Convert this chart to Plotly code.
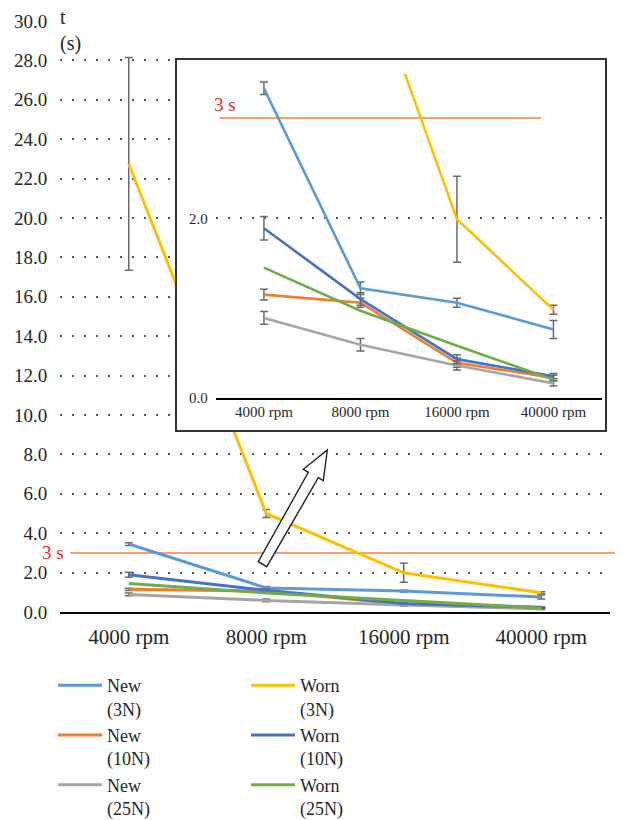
import plotly.graph_objects as go

# ---------------- data ----------------
categories = ["4000 rpm", "8000 rpm", "16000 rpm", "40000 rpm"]

new_3n = [3.45, 1.22, 1.06, 0.76]
new_3n_err = [0.07, 0.07, 0.05, 0.10]
new_10n = [1.15, 1.06, 0.39, 0.22]
new_10n_err = [0.06, 0.05, 0.05, 0.03]
new_25n = [0.89, 0.59, 0.36, 0.16]
new_25n_err = [0.07, 0.07, 0.05, 0.03]
worn_3n = [22.75, 5.0, 1.99, 0.98]
worn_3n_err = [5.4, 0.2, 0.48, 0.05]
worn_10n = [1.89, 1.10, 0.43, 0.24]
worn_10n_err = [0.13, 0.07, 0.05, 0.03]
worn_25n = [1.45, 0.97, 0.58, 0.20]
worn_25n_err = None

threshold = 3.0
threshold_label = "3 s"
y_title = "t<br>(s)"

# ---------------- geometry (page pixels -> paper) ----------------
PAGE_W, PAGE_H = 623, 820
OFF = 8                      # default page body margin
W, H = PAGE_W - OFF, PAGE_H - OFF
PLOT_L, PLOT_R, PLOT_T, PLOT_B = 60, 610, 21, 612   # page pixels
ML, MR = PLOT_L - OFF, W - (PLOT_R - OFF)
MT, MB = PLOT_T - OFF, H - (PLOT_B - OFF)
PW = PLOT_R - PLOT_L
PH = PLOT_B - PLOT_T


def px(x):
    return (x - PLOT_L) / PW


def py(y):
    return (PLOT_B - y) / PH


FONT = "Liberation Serif"
TXT = "#262626"
ERR = "#6a6a6a"
GRID = "#555555"
CLEAR = "rgba(0,0,0,0)"

series = [
    ("New<br>(3N)", new_3n, new_3n_err, "#5B9BD5", "legend"),
    ("New<br>(10N)", new_10n, new_10n_err, "#ED7D31", "legend"),
    ("New<br>(25N)", new_25n, new_25n_err, "#A5A5A5", "legend"),
    ("Worn<br>(3N)", worn_3n, worn_3n_err, "#FFC000", "legend2"),
    ("Worn<br>(10N)", worn_10n, worn_10n_err, "#4472C4", "legend2"),
    ("Worn<br>(25N)", worn_25n, worn_25n_err, "#70AD47", "legend2"),
]

fig = go.Figure()

# main chart
for name, vals, err, color, leg in series:
    fig.add_trace(go.Scatter(
        x=categories, y=vals, mode="lines", name=name, legend=leg,
        line=dict(color=color, width=3),
        error_y=dict(type="data", array=err if err else [0] * len(vals),
                     visible=err is not None, color=ERR, thickness=1.5, width=4),
        xaxis="x", yaxis="y", hoverinfo="skip",
    ))

# empty holder subplot: white framed area of the inset
fig.add_trace(go.Scatter(x=[], y=[], mode="lines", showlegend=False,
                         xaxis="x2", yaxis="y2", hoverinfo="skip"))

# inset chart
for name, vals, err, color, leg in series:
    fig.add_trace(go.Scatter(
        x=categories, y=vals, mode="lines", name=name, showlegend=False,
        line=dict(color=color, width=2.6),
        error_y=dict(type="data", array=err if err else [0] * len(vals),
                     visible=err is not None, color=ERR, thickness=1.5, width=4),
        xaxis="x3", yaxis="y3", hoverinfo="skip",
    ))

box = (176.5, 605, 59.5, 430)        # left, right, top, bottom (page px)
inset = (215.7, 601.7, 74, 397.7)

tick_vals = list(range(0, 31, 2))

fig.update_layout(
    template="none",
    width=W, height=H,
    margin=dict(l=ML, r=MR, t=MT, b=MB, autoexpand=False),
    paper_bgcolor="white", plot_bgcolor="white",
    font=dict(family=FONT, color=TXT),
    xaxis=dict(domain=[0, 1], anchor="y", type="category", range=[-0.5, 3.5],
               showline=True, linecolor="#000000", linewidth=1.5,
               showgrid=False, zeroline=False,
               ticks="outside", ticklen=5, tickcolor=CLEAR,
               tickfont=dict(size=21, family=FONT, color=TXT)),
    yaxis=dict(domain=[0, 1], anchor="x", range=[0, 30], tickvals=tick_vals,
               tickformat=".1f", showgrid=True, gridcolor=GRID, gridwidth=1.5,
               griddash="2px,10px", zeroline=False, showline=False,
               ticks="outside", ticklen=8, tickcolor=CLEAR,
               tickfont=dict(size=19, family=FONT, color=TXT)),
    xaxis2=dict(domain=[px(box[0]), px(box[1])], anchor="y2", range=[0, 1],
                showline=True, mirror=True, linecolor="#333333", linewidth=1.5,
                showgrid=False, zeroline=False, showticklabels=False, ticks=""),
    yaxis2=dict(domain=[py(box[3]), py(box[2])], anchor="x2", range=[0, 1],
                showline=True, mirror=True, linecolor="#333333", linewidth=1.5,
                showgrid=False, zeroline=False, showticklabels=False, ticks=""),
    xaxis3=dict(domain=[px(inset[0]), px(inset[1])], anchor="y3",
                type="category", range=[-0.5, 3.5],
                showline=True, linecolor="#000000", linewidth=1.5,
                showgrid=False, zeroline=False, ticks="",
                tickfont=dict(size=15, family=FONT, color=TXT)),
    yaxis3=dict(domain=[py(inset[3]), py(inset[2])], anchor="x3",
                range=[0, 3.61], tickvals=[0, 2], tickformat=".1f",
                showgrid=True, gridcolor=GRID, gridwidth=1.5,
                griddash="2px,10px", zeroline=False, showline=False,
                ticks="outside", ticklen=4, tickcolor=CLEAR,
                tickfont=dict(size=15, family=FONT, color=TXT)),
    legend=dict(x=px(53), y=py(667), xanchor="left", yanchor="top",
                orientation="v", valign="top", itemwidth=44,
                bgcolor=CLEAR,
                font=dict(size=18, family=FONT, color=TXT)),
    legend2=dict(x=px(246), y=py(667), xanchor="left", yanchor="top",
                 orientation="v", valign="top", itemwidth=44,
                 bgcolor=CLEAR,
                 font=dict(size=18, family=FONT, color=TXT)),
    showlegend=True,
)

# threshold lines
fig.add_shape(type="line", xref="paper", yref="y", x0=px(70), x1=px(623),
              y0=threshold, y1=threshold,
              line=dict(color="#F3A26F", width=2), layer="below")
fig.add_shape(type="line", xref="x3", yref="y3", x0=-0.46, x1=2.87,
              y0=threshold + 0.12, y1=threshold + 0.12,
              line=dict(color="#F3A26F", width=2), layer="below")

# hollow arrow pointing to the inset
arrow_px = [(258.3, 561.7), (308.3, 472.3), (303.3, 469.3), (327.3, 450),
            (323.3, 480.7), (318.3, 477.7), (266.7, 566.7)]
path = "M " + " L ".join(f"{px(a):.5f},{py(b):.5f}" for a, b in arrow_px) + " Z"
fig.add_shape(type="path", xref="paper", yref="paper", path=path,
              fillcolor="white", line=dict(color="#222222", width=1.4),
              layer="above")

# annotations
fig.add_annotation(text=y_title, xref="paper", yref="paper", x=px(58),
                   y=py(30), xanchor="left", yanchor="middle", align="left",
                   showarrow=False, font=dict(size=20, family=FONT, color=TXT))
fig.add_annotation(text=threshold_label, xref="paper", yref="y", x=px(52.5),
                   y=threshold, xanchor="center", yanchor="middle",
                   showarrow=False, font=dict(size=19, family=FONT, color="#E8262E"))
fig.add_annotation(text=threshold_label, xref="x3", yref="y3", x=-0.403,
                   y=3.27, xanchor="center", yanchor="middle",
                   showarrow=False, font=dict(size=19, family=FONT, color="#E8262E"))

fig.write_html("out.html")
